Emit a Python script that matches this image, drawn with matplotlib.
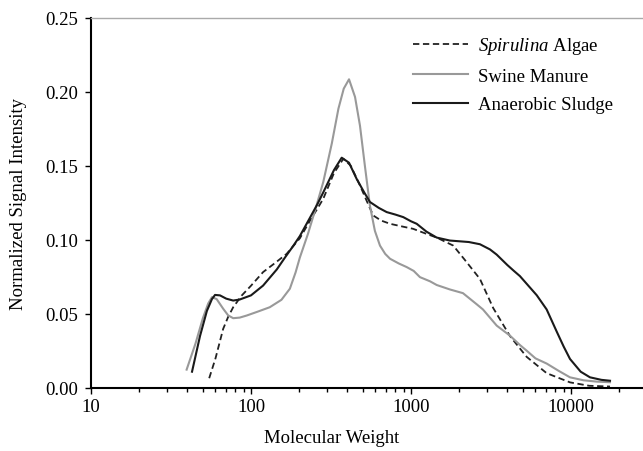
import matplotlib
matplotlib.use('Agg')
import matplotlib.pyplot as plt

plt.rcParams['font.family'] = ['Liberation Serif', 'DejaVu Serif']
plt.rcParams['mathtext.fontset'] = 'custom'
plt.rcParams['mathtext.rm'] = 'Liberation Serif'
plt.rcParams['mathtext.it'] = 'Liberation Serif:italic'

# values: molecular weight vs normalized signal
spirulina_mw = [54.8, 60, 67, 72, 77.4, 87.5, 100, 119, 140, 167, 202, 234, 260,
                283, 330, 378, 420, 480, 530, 581, 650, 740, 880, 1032, 1250,
                1448, 1837, 2150, 2698, 3264, 4159, 5287, 7048, 9860, 13000, 17540]
spirulina_sig = [0.0066, 0.020, 0.0399, 0.048, 0.0545, 0.0624, 0.069, 0.0782,
                 0.084, 0.0905, 0.101, 0.113, 0.121, 0.1277, 0.145, 0.1547,
                 0.150, 0.1367, 0.126, 0.1164, 0.113, 0.1108, 0.109, 0.1074,
                 0.104, 0.1015, 0.0961, 0.087, 0.0736, 0.054, 0.035, 0.021,
                 0.010, 0.0038, 0.0015, 0.0010]

swine_mw = [39.6, 45, 50, 54, 57, 61, 67, 72, 77.4, 85, 94, 110, 131, 155, 175,
            190, 202, 227, 255, 283, 320, 352, 380, 410, 447, 480, 515, 554,
            595, 640, 690, 740, 840, 940, 1040, 1138, 1315, 1448, 1750, 2113,
            2575, 2818, 3434, 4159, 4797, 5285, 6000, 7048, 8400, 9860, 12000,
            14500, 17540]
swine_sig = [0.0124, 0.030, 0.047, 0.057, 0.0613, 0.0600, 0.0535, 0.049, 0.0471,
             0.0475, 0.0489, 0.0515, 0.0545, 0.0595, 0.067, 0.078, 0.088, 0.104,
             0.122, 0.139, 0.165, 0.1885, 0.202, 0.2083, 0.1964, 0.177, 0.150,
             0.123, 0.106, 0.0961, 0.0905, 0.0872, 0.084, 0.0816, 0.079, 0.0748,
             0.072, 0.0695, 0.0665, 0.064, 0.0565, 0.053, 0.0421, 0.0353, 0.029,
             0.0252, 0.020, 0.0165, 0.0115, 0.0072, 0.0052, 0.0043, 0.0039]

sludge_mw = [42.8, 48, 53, 57, 59.6, 64, 70, 77.4, 85, 100, 119, 145, 163, 184,
             202, 234, 260, 283, 330, 369, 410, 458, 510, 554, 630, 705, 800,
             895, 1000, 1086, 1250, 1448, 1750, 2300, 2698, 3118, 3434, 4000,
             4400, 4797, 6110, 7048, 8150, 9000, 9860, 11500, 13150, 15500, 17540]
sludge_sig = [0.011, 0.035, 0.052, 0.060, 0.0628, 0.0625, 0.0603, 0.059, 0.0597,
              0.0625, 0.0691, 0.080, 0.088, 0.096, 0.1025, 0.115, 0.124,
              0.132, 0.147, 0.1554, 0.152, 0.141, 0.132, 0.1255, 0.1215,
              0.1187, 0.117, 0.1153, 0.1125, 0.1108, 0.1055, 0.1015, 0.0995,
              0.0985, 0.097, 0.0935, 0.090, 0.083, 0.079, 0.0755, 0.0626, 0.053,
              0.038, 0.028, 0.0196, 0.011, 0.0072, 0.0055, 0.0049]

fig = plt.figure(figsize=(6.43, 4.52), dpi=100)
ax = fig.add_axes([91 / 643, 1 - 389 / 452, 1 - 91 / 643, (389 - 18.5) / 452])

ax.plot(spirulina_mw, spirulina_sig, color='#222222', lw=1.3, ls=(0, (3.5, 2)),
        label=r'$\mathit{Spirulina}$ Algae')
ax.plot(swine_mw, swine_sig, color='#999999', lw=1.5, label='Swine Manure')
ax.plot(sludge_mw, sludge_sig, color='#1a1a1a', lw=1.5, label='Anaerobic Sludge')

ax.set_xscale('log')
ax.set_xlim(10, 28200)
ax.set_ylim(0, 0.25)
ax.set_xticks([10, 100, 1000, 10000])
ax.set_xticklabels(['10', '100', '1000', '10000'])
ax.set_yticks([0, 0.05, 0.10, 0.15, 0.20, 0.25])
ax.set_yticklabels(['0.00', '0.05', '0.10', '0.15', '0.20', '0.25'])

ax.spines['right'].set_visible(False)
ax.spines['top'].set_color('#aaaaaa')
ax.spines['top'].set_linewidth(1.0)
ax.spines['left'].set_linewidth(1.5)
ax.spines['bottom'].set_linewidth(1.5)
ax.tick_params(axis='both', which='major', direction='out', length=4, width=1,
               labelsize=13.5)
ax.tick_params(axis='y', which='major', pad=5)
ax.tick_params(axis='x', which='major', pad=3)
ax.tick_params(axis='x', which='minor', direction='out', length=3, width=1)

ax.set_xlabel('Molecular Weight', fontsize=13.5)
ax.set_ylabel('Normalized Signal Intensity', fontsize=13.5)
ax.xaxis.set_label_coords((332 - 91) / 552, (389 - 430) / 370.5)
ax.yaxis.set_label_coords((27 - 91) / 552, 0.5)

ax.legend(loc='upper left', bbox_to_anchor=(0.570, 0.972), frameon=False,
          fontsize=13.5, handlelength=2.9, handletextpad=0.55,
          labelspacing=0.6, borderaxespad=0)

fig.savefig('out.png', dpi=100)
